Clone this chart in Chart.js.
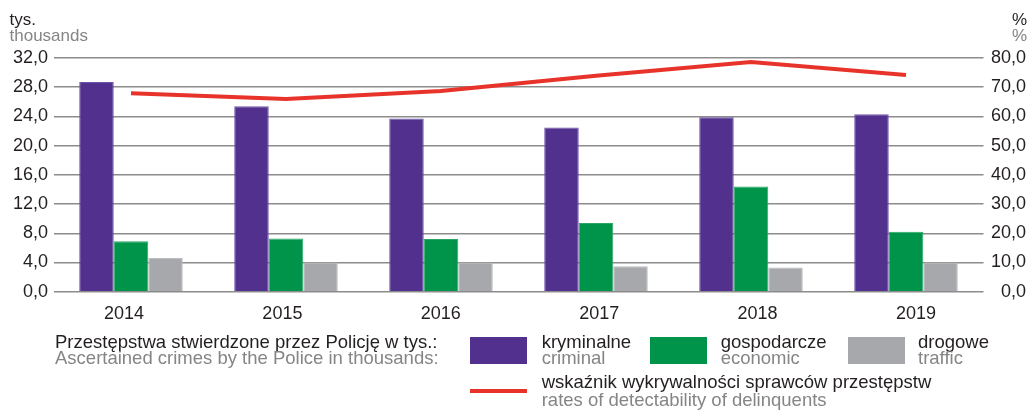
<!DOCTYPE html>
<html>
<head>
<meta charset="utf-8">
<script src="https://cdn.jsdelivr.net/npm/chart.js@4"></script>
<style>
  html, body { margin: 0; padding: 0; background: #fff; }
  #wrap { position: relative; width: 1031px; height: 410px; overflow: hidden; }
  #c { position: absolute; left: 0; top: 0; }
  .t { position: absolute; font-family: 'Liberation Sans', Arial, sans-serif; font-size: 17px; line-height: 17px; white-space: nowrap; color: #231f20; }
  .l { font-size: 18.5px; }
  .g { color: #858585; }
  .sw { position: absolute; }
</style>
</head>
<body>
<div id="wrap">
  <canvas id="c" width="1031" height="410"></canvas>
  <div class="t" style="left:9.5px; top:10.6px;">tys.</div>
  <div class="t g" style="left:9.5px; top:26.6px;">thousands</div>
  <div class="t" style="right:4px; top:10.6px;">%</div>
  <div class="t g" style="right:4px; top:26.6px;">%</div>

  <div class="t l" style="left:55px; top:332.8px;">Przestępstwa stwierdzone przez Policję w tys.:</div>
  <div class="t l g" style="left:55px; top:349.4px;">Ascertained crimes by the Police in thousands:</div>

  <div class="sw" style="left:470px; top:337px; width:57px; height:27px; background:#52308e;"></div>
  <div class="t l" style="left:541.7px; top:332.8px;">kryminalne</div>
  <div class="t l g" style="left:541.7px; top:349.4px;">criminal</div>

  <div class="sw" style="left:650px; top:337px; width:57px; height:27px; background:#00944a;"></div>
  <div class="t l" style="left:720.7px; top:332.8px;">gospodarcze</div>
  <div class="t l g" style="left:720.7px; top:349.4px;">economic</div>

  <div class="sw" style="left:848.3px; top:337px; width:57px; height:27px; background:#a7a8ab;"></div>
  <div class="t l" style="left:918px; top:332.8px;">drogowe</div>
  <div class="t l g" style="left:918px; top:349.4px;">traffic</div>

  <div class="sw" style="left:470px; top:388.5px; width:57px; height:4px; background:#e8332a;"></div>
  <div class="t l" style="left:541.7px; top:373.4px;">wskaźnik wykrywalności sprawców przestępstw</div>
  <div class="t l g" style="left:541.7px; top:391.1px;">rates of detectability of delinquents</div>
</div>
<script>
const categories = ['2014', '2015', '2016', '2017', '2018', '2019'];
const kryminalne = [28.7, 25.4, 23.7, 22.5, 23.9, 24.3];
const gospodarcze = [6.9, 7.3, 7.2, 9.4, 14.4, 8.2];
const drogowe = [4.6, 4.0, 4.0, 3.5, 3.3, 4.0];
const wskaznik = [67.9, 66.0, 68.7, 73.9, 78.6, 74.2];
const leftTicks = ['0,0', '4,0', '8,0', '12,0', '16,0', '20,0', '24,0', '28,0', '32,0'];
const rightTicks = ['0,0', '10,0', '20,0', '30,0', '40,0', '50,0', '60,0', '70,0', '80,0'];

const W = 1031, H = 410;
const areaLeft = 53.5, areaRight = 983.5, areaTop = 58, areaBottom = 291.7, padRight = 5;
const gridColor = '#8c8c8c';
const tickFont = { family: "'Liberation Sans', Arial, sans-serif", size: 18 };
// the year labels sit on a slightly wider, evenly spaced row than the bar groups
const labelMin = -0.445, labelMax = 5.426;

new Chart(document.getElementById('c'), {
  data: {
    labels: categories,
    datasets: [
      { type: 'line', label: 'wskaźnik', data: wskaznik, xAxisID: 'x', yAxisID: 'y1', borderColor: '#e8332a', borderWidth: 4, pointRadius: 0, tension: 0, order: 0, borderCapStyle: 'butt' },
      { type: 'bar', label: 'kryminalne', data: kryminalne, xAxisID: 'x', yAxisID: 'y', backgroundColor: '#52308e', borderColor: '#6e55a8', borderWidth: 1, categoryPercentage: 0.668, barPercentage: 1.0, order: 1 },
      { type: 'bar', label: 'gospodarcze', data: gospodarcze, xAxisID: 'x', yAxisID: 'y', backgroundColor: '#00944a', borderColor: '#2aa766', borderWidth: 1, categoryPercentage: 0.668, barPercentage: 1.0, order: 1 },
      { type: 'bar', label: 'drogowe', data: drogowe, xAxisID: 'x', yAxisID: 'y', backgroundColor: '#a7a8ab', borderColor: '#bdbec0', borderWidth: 1, categoryPercentage: 0.668, barPercentage: 1.0, order: 1 }
    ]
  },
  options: {
    responsive: false,
    animation: false,
    devicePixelRatio: 1,
    layout: { padding: { top: areaTop, bottom: 0, left: 0, right: padRight } },
    plugins: { legend: { display: false }, tooltip: { enabled: false }, title: { display: false } },
    scales: {
      x: {
        type: 'category',
        display: false,
        offset: true,
        grid: { display: false }
      },
      xl: {
        type: 'linear',
        position: 'bottom',
        min: labelMin, max: labelMax,
        grid: { display: false, drawTicks: false },
        border: { display: false },
        ticks: { autoSkip: false, maxRotation: 0, color: '#231f20', font: tickFont, padding: 12,
                 callback: v => categories[v] },
        afterBuildTicks: s => { s.ticks = categories.map((c, i) => ({ value: i })); },
        afterFit: s => { s.height = H - areaBottom; }
      },
      y: {
        position: 'left',
        min: 0, max: 32,
        grid: { color: gridColor, lineWidth: 1.5, drawTicks: false },
        border: { display: false },
        ticks: { stepSize: 4, color: '#231f20', font: tickFont, padding: 5.5, callback: (v, i) => leftTicks[i] },
        afterFit: s => { s.width = areaLeft; }
      },
      y1: {
        position: 'right',
        min: 0, max: 80,
        grid: { display: false, drawTicks: false },
        border: { display: false },
        ticks: { stepSize: 10, color: '#231f20', font: tickFont, padding: 6, crossAlign: 'far', callback: (v, i) => rightTicks[i] },
        afterFit: s => { s.width = W - padRight - areaRight; }
      }
    }
  }
});
</script>
</body>
</html>
